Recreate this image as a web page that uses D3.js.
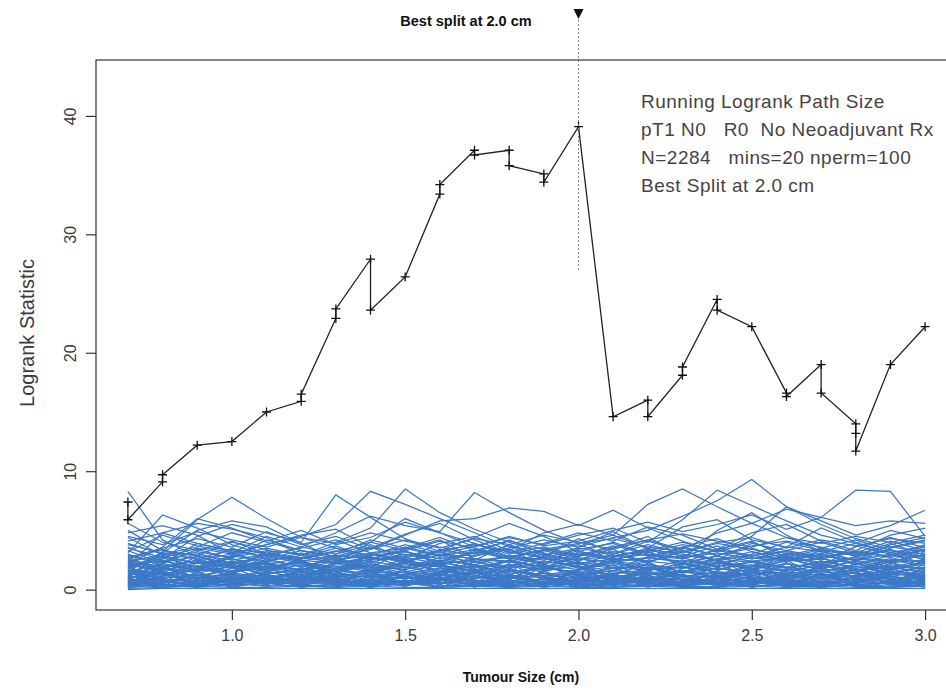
<!DOCTYPE html>
<html>
<head>
<meta charset="utf-8">
<script src="https://cdn.jsdelivr.net/npm/d3@7"></script>
<style>
  html, body { margin: 0; padding: 0; background: #fff; }
  svg { display: block; font-family: "Liberation Sans", Arial, sans-serif; }
</style>
</head>
<body>
<svg id="chart" width="946" height="690"></svg>
<script>
// ---------------- DATA ----------------
const xTicks = [1.0, 1.5, 2.0, 2.5, 3.0];
const yTicks = [0, 10, 20, 30, 40];
const titleText = "Best split at 2.0 cm";
const xLabel = "Tumour Size (cm)";
const yLabel = "Logrank Statistic";
const legendLines = [
  "Running Logrank Path Size",
  "pT1 N0   R0  No Neoadjuvant Rx",
  "N=2284   mins=20 nperm=100",
  "Best Split at 2.0 cm"
];
const bestSplit = 2.0;
const bestSplitLineBottom = 27;

// observed running logrank path (tumour size, statistic)
const pathSize = [0.7,0.7,0.8,0.8,0.9,1.0,1.1,1.2,1.2,1.3,1.3,1.4,1.4,1.5,1.6,1.6,1.7,1.7,1.8,1.8,
                  1.9,1.9,2.0,2.1,2.2,2.2,2.3,2.3,2.4,2.4,2.5,2.6,2.6,2.7,2.7,2.8,2.8,2.8,2.9,3.0];
const pathStat = [7.4,5.9,9.1,9.7,12.2,12.5,15.0,15.9,16.5,22.9,23.7,27.9,23.6,26.4,33.4,34.2,37.1,36.7,37.1,35.8,
                  35.1,34.4,39.1,14.6,16.0,14.6,18.1,18.8,24.5,23.6,22.2,16.6,16.3,19.0,16.6,14.0,13.2,11.7,19.0,22.2];

// permutation paths, evaluated at these sizes
const permSize = [0.7,0.8,0.9,1.0,1.1,1.2,1.3,1.4,1.5,1.6,1.7,1.8,1.9,2.0,2.1,2.2,2.3,2.4,2.5,2.6,2.7,2.8,2.9,3.0];
const permPaths = [
  [8.3,4.2,2.8,2.0,1.5,1.0,1.8,1.2,0.9,1.5,2.1,1.0,0.6,1.2,0.8,1.6,2.2,1.4,0.9,1.3,0.7,1.1,1.8,1.0],
  [3.1,6.3,5.2,3.8,2.9,2.2,1.5,3.0,2.4,1.6,1.1,2.0,2.7,1.9,1.2,0.8,1.5,2.3,1.8,1.1,1.7,2.5,1.9,1.4],
  [1.5,3.2,5.9,7.8,6.0,4.4,3.5,2.6,3.3,2.1,1.6,2.4,1.9,2.8,3.4,2.2,1.5,1.1,2.0,2.9,2.1,1.4,2.2,3.0],
  [2.0,2.6,4.5,5.5,4.8,4.0,8.0,6.1,4.3,3.2,2.5,3.8,2.9,2.1,3.0,4.1,3.3,2.4,1.9,2.6,3.1,2.2,1.6,2.4],
  [0.9,1.8,2.5,3.0,3.8,4.5,5.5,8.3,7.2,6.0,4.8,3.6,2.7,1.8,2.5,3.2,2.1,2.9,3.5,2.6,1.9,2.8,3.4,2.5],
  [1.2,2.1,1.6,2.8,3.5,2.9,4.0,5.2,8.5,6.5,5.1,4.0,3.1,2.2,1.8,2.7,3.6,4.3,3.2,2.4,3.0,2.1,2.9,3.8],
  [2.4,1.7,3.1,2.2,2.9,3.6,4.8,6.2,5.4,4.9,8.2,6.5,5.0,3.9,4.6,3.5,2.8,3.7,2.6,3.3,4.0,3.1,2.3,3.2],
  [1.7,2.9,2.2,3.5,2.6,1.9,2.7,3.4,4.6,5.8,6.0,6.9,6.6,5.4,6.7,5.2,4.1,3.2,4.0,3.0,2.5,3.6,4.4,3.5],
  [0.6,1.4,2.8,1.9,2.4,3.1,2.3,1.7,2.6,3.9,4.5,3.3,4.8,5.5,4.6,7.2,8.5,7.0,5.6,4.4,3.5,4.2,3.3,2.7],
  [1.9,2.5,1.5,2.3,1.7,2.6,3.3,2.5,3.6,2.9,3.7,4.4,3.8,4.6,5.2,4.0,5.9,8.4,7.1,5.8,4.6,3.9,5.0,4.3],
  [2.8,1.3,2.0,1.4,2.2,1.6,2.5,3.1,2.2,3.4,2.8,3.5,4.2,3.6,4.4,5.0,6.2,7.5,9.3,7.0,5.5,4.3,3.6,4.2],
  [1.1,2.2,3.4,2.6,1.8,2.4,1.6,2.3,3.0,2.4,3.2,2.6,3.4,2.8,3.6,4.2,3.4,4.8,5.6,6.8,6.1,8.4,8.3,4.5],
  [3.5,2.7,1.9,2.9,2.3,1.5,2.2,2.8,1.9,2.7,2.1,2.9,2.3,3.0,2.5,3.3,4.0,3.2,4.5,7.0,5.8,4.6,5.4,6.7],
  [2.2,3.6,6.0,5.2,4.1,5.0,3.8,4.4,5.7,4.8,3.6,4.5,3.7,4.1,5.0,5.7,4.9,5.5,6.3,5.1,6.1,5.4,5.8,5.6],
  [4.5,3.8,4.9,4.2,3.6,4.4,3.9,4.8,4.1,3.5,4.3,3.8,4.6,4.0,3.4,4.2,4.7,4.1,3.6,4.4,3.9,4.5,4.0,4.6],
  [3.2,4.6,3.7,3.1,4.5,3.6,3.0,4.2,3.5,4.4,3.3,4.1,3.4,3.9,4.3,3.6,3.2,4.0,4.4,3.5,4.2,3.7,4.3,3.9],
  [5.6,4.0,3.3,4.1,3.0,2.7,3.5,2.9,3.8,3.1,3.9,3.0,3.6,2.9,3.7,3.1,3.8,3.3,2.8,3.6,3.2,3.9,3.1,3.7],
  [2.7,3.5,4.3,3.6,4.9,3.8,4.5,3.4,4.2,3.6,3.0,3.7,2.9,3.5,3.0,3.8,3.1,3.9,3.4,2.9,3.5,3.0,3.6,3.2],
  [3.9,3.0,3.6,4.8,4.0,3.3,2.8,3.6,2.9,3.3,3.8,3.2,2.7,3.4,3.9,2.8,3.5,2.9,3.7,4.1,3.6,2.8,3.3,3.0],
  [4.1,4.8,3.9,3.3,2.8,3.5,4.2,3.1,3.5,2.8,3.4,2.7,3.3,2.6,3.2,2.9,2.6,3.4,2.9,3.2,2.7,3.3,2.8,3.6],
  [2.3,3.0,2.6,3.4,3.1,2.6,3.2,4.0,3.3,4.1,3.5,2.8,3.3,3.8,2.8,3.4,3.0,2.5,3.2,2.7,3.4,2.9,3.9,2.9],
  [3.6,2.4,3.2,2.7,3.3,3.0,2.5,2.9,3.2,2.6,3.1,3.4,2.6,3.1,2.6,3.0,2.7,3.1,2.6,3.0,2.6,3.2,2.7,3.4],
  [5.0,3.3,2.9,2.5,3.0,2.4,2.9,2.6,2.8,3.0,2.6,2.4,3.0,2.5,2.9,2.4,2.9,2.5,2.9,2.5,2.9,2.5,3.0,2.6],
  [1.8,2.7,3.5,3.0,2.4,2.9,3.7,2.7,2.4,2.9,2.3,2.9,2.5,3.3,2.4,2.7,2.3,2.8,2.4,2.8,2.3,2.7,2.4,2.9],
  [2.1,1.6,2.3,1.8,2.4,2.0,1.5,2.2,1.7,2.3,1.8,2.5,1.9,2.3,2.0,1.6,2.2,1.7,2.4,1.9,2.2,1.6,2.1,1.8],
  [1.5,2.2,1.7,2.3,1.6,2.1,2.4,1.8,2.2,1.6,2.3,1.9,2.1,1.7,2.4,2.0,1.8,2.3,1.7,2.2,1.8,2.4,1.7,2.2],
  [2.5,1.9,1.4,2.0,2.2,1.7,2.0,1.5,2.1,2.0,1.5,2.1,1.6,2.0,1.6,2.2,1.5,2.0,2.1,1.6,2.0,1.8,2.3,1.6],
  [1.2,1.7,2.0,1.5,1.9,1.4,1.8,2.0,1.4,1.8,2.0,1.5,1.9,1.4,1.8,1.9,1.4,1.8,1.5,1.9,1.5,2.0,1.4,1.9],
  [1.8,1.3,1.6,1.9,1.3,1.8,1.3,1.6,1.9,1.4,1.7,1.3,1.8,1.5,1.3,1.7,1.9,1.5,1.3,1.7,1.4,1.6,1.9,1.5],
  [0.9,1.5,1.2,1.6,1.7,1.2,1.6,1.3,1.2,1.6,1.3,1.7,1.2,1.7,1.5,1.2,1.6,1.3,1.7,1.3,1.8,1.3,1.5,1.3],
  [1.4,1.1,1.8,1.2,1.4,1.6,1.1,1.4,1.5,1.2,1.5,1.1,1.4,1.2,1.6,1.4,1.1,1.5,1.2,1.5,1.2,1.4,1.1,1.6],
  [1.0,1.3,1.0,1.4,1.1,1.3,1.4,1.0,1.3,1.0,1.4,1.2,1.0,1.3,1.1,1.4,1.2,1.0,1.4,1.1,1.3,1.0,1.3,1.2],
  [0.7,1.0,1.2,0.9,1.2,1.0,1.2,1.1,0.9,1.2,1.0,0.9,1.2,1.0,1.2,0.9,1.2,1.1,0.9,1.2,1.0,1.2,0.9,1.1],
  [1.1,0.8,0.9,1.1,0.8,1.1,0.9,1.2,1.0,0.8,1.1,1.0,0.8,1.1,0.9,1.0,0.8,1.2,1.0,0.9,1.1,0.8,1.1,0.9],
  [0.5,0.9,0.7,0.9,1.0,0.7,0.9,0.7,1.0,0.9,0.7,1.0,0.7,0.9,0.7,1.0,0.9,0.7,1.0,0.7,0.9,0.9,0.7,1.0],
  [0.8,0.6,1.0,0.6,0.8,0.9,0.6,0.8,0.6,0.9,0.8,0.6,0.9,0.8,0.6,0.8,0.6,0.9,0.7,0.8,0.6,0.9,0.8,0.6],
  [0.3,0.7,0.5,0.7,0.6,0.5,0.7,0.6,0.7,0.5,0.7,0.6,0.5,0.7,0.6,0.7,0.5,0.6,0.7,0.5,0.7,0.6,0.5,0.7],
  [0.6,0.4,0.6,0.4,0.5,0.6,0.4,0.5,0.4,0.6,0.5,0.4,0.6,0.4,0.5,0.6,0.4,0.5,0.6,0.4,0.5,0.4,0.6,0.5],
  [0.2,0.4,0.3,0.5,0.3,0.4,0.3,0.4,0.5,0.3,0.4,0.3,0.4,0.5,0.3,0.4,0.3,0.5,0.3,0.4,0.3,0.4,0.3,0.4],
  [0.1,0.2,0.3,0.2,0.2,0.3,0.2,0.3,0.2,0.2,0.3,0.2,0.3,0.2,0.2,0.3,0.2,0.2,0.3,0.2,0.3,0.2,0.2,0.3],
  [0.0,0.1,0.1,0.1,0.1,0.1,0.1,0.1,0.1,0.1,0.1,0.1,0.1,0.1,0.1,0.1,0.1,0.1,0.1,0.1,0.1,0.1,0.1,0.1],
  [2.9,2.3,2.8,2.2,2.7,2.5,2.2,2.7,2.4,2.1,2.6,2.3,2.7,2.2,2.6,2.4,2.1,2.6,2.3,2.7,2.2,2.6,2.3,2.5],
  [2.0,2.8,2.2,2.6,2.1,2.7,2.3,2.5,2.7,2.2,2.5,2.7,2.2,2.6,2.3,2.7,2.4,2.2,2.7,2.4,2.6,2.2,2.6,2.3],
  [1.3,1.9,2.5,2.1,1.7,2.3,1.9,2.4,1.9,2.5,2.1,1.8,2.4,1.9,2.2,1.7,2.5,2.0,2.3,1.8,2.4,1.9,2.5,2.0],
  [0.4,0.3,0.8,0.5,0.7,0.4,0.8,0.5,0.6,0.8,0.5,0.8,0.4,0.6,0.8,0.5,0.7,0.4,0.8,0.6,0.4,0.7,0.5,0.8],
  [1.6,1.2,0.9,1.3,0.9,1.5,1.0,1.7,1.1,1.4,0.9,1.6,1.1,1.5,1.0,1.3,1.6,1.0,1.5,1.0,1.6,1.1,1.4,1.0],
  [0.3,1.9,0.8,2.2,1.1,0.5,1.7,2.4,0.9,1.3,2.0,0.6,1.5,2.3,1.0,0.4,1.8,2.5,1.2,0.7,2.1,1.4,0.5,1.9],
  [1.7,0.5,2.3,1.0,0.4,1.9,0.8,1.2,2.5,0.6,1.1,2.2,0.9,0.3,1.6,2.4,0.7,1.3,2.0,1.5,0.6,2.3,1.1,0.8],
  [2.2,1.4,0.6,0.3,1.5,2.5,1.3,0.5,1.8,2.3,0.8,0.4,2.0,1.2,0.6,1.9,1.1,0.3,0.9,2.2,1.7,0.5,1.3,2.1],
  [0.8,2.4,1.9,1.2,0.5,0.9,2.2,1.6,0.4,0.8,1.9,2.4,1.4,0.7,2.1,1.0,0.5,1.6,2.4,0.9,0.3,1.2,2.0,1.7],
  [1.0,0.2,0.5,1.6,2.3,1.2,0.4,0.9,1.5,2.1,0.5,1.3,0.4,1.7,2.5,1.3,2.0,0.8,0.4,1.7,2.4,1.8,0.9,0.3],
  [2.6,1.8,1.1,0.7,1.3,0.6,2.5,1.9,1.1,0.4,1.4,0.8,2.4,2.0,0.5,0.9,1.5,2.2,1.0,0.5,1.2,0.6,1.6,2.4],
  [0.4,1.1,2.4,1.9,0.7,1.6,0.5,1.4,2.3,1.9,0.6,1.8,1.1,0.5,1.3,2.1,0.8,0.5,1.7,2.5,0.9,1.5,2.4,0.6],
  [1.9,0.7,0.3,0.8,1.8,2.4,1.0,0.3,0.7,1.1,2.4,1.6,0.5,1.0,1.9,0.6,2.3,1.4,0.6,1.1,1.9,0.3,0.8,1.4],
  [1.3,2.5,1.5,0.5,0.9,0.3,1.4,2.1,1.6,0.5,0.9,2.0,1.7,2.4,0.7,1.5,0.4,2.4,1.8,0.4,0.8,2.2,1.6,1.1],
  [0.6,0.9,1.8,2.4,1.9,1.0,0.7,0.4,1.3,1.8,1.2,0.5,0.9,1.6,2.3,1.8,1.2,0.6,0.5,1.4,2.2,1.0,0.4,0.5],
  [2.3,1.5,0.4,1.4,2.0,2.2,0.3,1.1,0.5,2.4,1.7,0.9,2.2,0.8,1.1,0.3,0.9,1.9,1.1,2.3,0.5,0.7,1.8,2.3],
  [0.2,0.6,1.3,0.6,0.3,0.8,1.2,0.7,0.3,0.9,0.4,1.1,0.5,0.2,0.7,1.2,0.4,0.8,0.2,0.6,1.3,0.5,0.2,0.9],
  [0.5,0.2,0.4,0.9,0.6,0.2,0.5,0.3,0.8,0.3,0.6,0.2,0.7,0.4,0.2,0.5,0.3,0.2,0.6,0.3,0.2,0.4,0.7,0.2],
  [1.4,0.9,0.6,0.3,0.6,1.1,0.8,0.6,0.4,1.0,0.7,0.3,0.4,0.9,0.5,0.3,0.6,1.0,0.7,0.3,0.6,0.9,0.4,0.6],
  [3.0,2.0,1.0,1.8,3.2,2.4,1.2,3.0,2.6,1.4,2.9,3.4,2.0,1.3,2.8,3.3,1.9,2.6,1.5,3.1,2.7,1.6,2.5,3.4],
  [2.6,3.4,2.5,1.4,2.6,3.3,2.8,1.6,2.3,3.2,2.0,1.4,3.5,2.7,1.8,2.5,3.6,2.9,1.8,2.4,3.3,2.9,1.8,2.6],
  [3.3,2.2,3.9,3.2,2.0,1.6,3.0,3.8,2.5,1.9,3.4,2.6,1.6,3.2,4.0,3.0,2.2,3.4,4.1,2.7,1.9,3.7,3.0,2.2],
  [1.1,3.1,2.9,4.0,3.4,2.2,1.8,2.6,3.4,4.2,2.6,1.9,2.8,4.3,3.1,2.3,3.3,2.5,3.9,3.3,2.8,3.1,4.1,3.3],
  [4.4,2.9,1.8,2.7,4.2,3.3,2.6,1.9,3.2,2.3,3.1,4.2,3.0,2.4,3.5,4.5,2.7,1.9,3.0,4.0,3.3,2.4,3.5,4.1],
  [0.9,0.4,0.2,0.4,0.9,0.4,0.2,0.9,0.6,0.2,0.3,0.7,0.2,0.6,0.4,0.9,0.2,0.3,0.9,0.4,0.7,0.3,0.2,0.4],
  [2.0,4.8,5.6,5.1,4.4,2.9,2.2,4.0,6.0,4.8,3.9,2.8,2.1,3.6,4.9,3.4,2.6,5.0,6.5,4.6,3.2,2.5,3.8,4.4],
  [4.8,5.4,4.6,3.0,3.8,4.6,5.1,3.6,2.4,3.3,4.4,5.6,4.5,3.2,2.7,3.5,5.3,5.9,4.2,3.6,5.2,4.0,3.1,2.8],
  [3.8,3.1,5.0,5.8,5.3,3.9,2.6,3.5,4.7,5.6,4.2,3.1,3.9,4.8,4.1,5.3,4.6,3.4,4.8,5.5,4.1,3.3,4.6,5.2],
  [0.7,1.4,0.3,1.1,0.4,1.3,0.6,0.2,1.2,0.5,1.5,0.3,1.0,0.6,1.4,0.2,1.1,0.5,0.3,1.3,0.6,1.5,0.4,1.2],
  [1.2,0.3,1.5,0.6,1.3,0.3,1.0,1.5,0.4,1.1,0.2,1.3,0.6,1.5,0.3,1.2,0.5,1.4,1.1,0.2,1.4,0.5,1.2,0.3],
  [0.4,0.8,0.2,1.3,0.5,1.0,0.3,1.1,0.7,0.2,1.2,0.7,0.3,1.0,0.4,0.8,1.3,0.3,0.5,1.0,0.3,0.8,1.0,0.6],
  [1.5,1.0,1.3,0.4,1.1,0.5,1.4,0.8,0.3,1.4,0.6,1.2,0.4,0.8,1.3,0.6,0.3,1.2,0.4,0.9,1.4,0.2,0.6,1.3],
  [0.9,1.6,0.5,0.8,1.6,0.8,0.4,1.7,1.0,0.7,1.7,0.4,1.6,0.3,1.0,1.6,0.8,0.7,1.6,0.5,1.0,1.7,0.8,0.4],
  [0.2,0.5,1.0,0.2,0.7,1.5,0.9,0.2,0.5,1.3,0.3,0.5,0.9,0.2,0.5,1.1,0.2,1.0,0.4,0.8,0.2,0.6,1.5,0.9]
];

// ---------------- LAYOUT ----------------
const svg = d3.select("#chart");
const box = { left: 96, right: 957, top: 60, bottom: 610 };
const x = d3.scaleLinear().domain([0.608, 3.092]).range([box.left, box.right]);
const y = d3.scaleLinear().domain([-1.72, 44.72]).range([box.bottom, box.top]);

const axisColor = "#333";
const textColor = "#3a3a3a";
const blue = "#3b78c6";

// permutation paths
const permLine = d3.line().x((d, i) => x(permSize[i])).y(d => y(d));
svg.append("g").attr("class", "perms")
  .selectAll("path").data(permPaths).join("path")
  .attr("d", permLine)
  .attr("fill", "none")
  .attr("stroke", blue)
  .attr("stroke-width", 1.25)
  .attr("stroke-linejoin", "miter");

// observed path
const obs = pathSize.map((s, i) => [s, pathStat[i]]);
svg.append("path")
  .attr("d", d3.line().x(d => x(d[0])).y(d => y(d[1]))(obs))
  .attr("fill", "none")
  .attr("stroke", "#222")
  .attr("stroke-width", 1.3);

// plus markers
const pm = 4.5;
svg.append("g").selectAll("path").data(obs).join("path")
  .attr("d", d => {
    const px = x(d[0]), py = y(d[1]);
    return `M${px - pm},${py}H${px + pm}M${px},${py - pm}V${py + pm}`;
  })
  .attr("stroke", "#111")
  .attr("stroke-width", 1.3)
  .attr("fill", "none");

// best split marker line (dotted) and triangle
svg.append("line")
  .attr("x1", x(bestSplit)).attr("x2", x(bestSplit))
  .attr("y1", 16).attr("y2", y(bestSplitLineBottom))
  .attr("stroke", "#888").attr("stroke-width", 1)
  .attr("stroke-dasharray", "2,2");
svg.append("path")
  .attr("d", `M${x(bestSplit) - 5},9L${x(bestSplit) + 5},9L${x(bestSplit)},19Z`)
  .attr("fill", "#111");

// box
svg.append("rect")
  .attr("x", box.left).attr("y", box.top)
  .attr("width", box.right - box.left).attr("height", box.bottom - box.top)
  .attr("fill", "none").attr("stroke", axisColor).attr("stroke-width", 1.2);

// x axis
const xAxis = d3.axisBottom(x).tickValues(xTicks).tickFormat(d3.format(".1f"))
  .tickSize(10).tickPadding(10);
const gx = svg.append("g").attr("transform", `translate(0,${box.bottom})`).call(xAxis);
gx.select(".domain").remove();
gx.selectAll(".tick line").attr("stroke", axisColor).attr("stroke-width", 1.2);
gx.selectAll(".tick text").attr("font-size", 16).attr("fill", textColor)
  .attr("font-family", "'Liberation Sans', Arial, sans-serif");

// y axis
const yAxis = d3.axisLeft(y).tickValues(yTicks).tickFormat(d3.format("d"))
  .tickSize(10).tickPadding(0);
const gy = svg.append("g").attr("transform", `translate(${box.left},0)`).call(yAxis);
gy.select(".domain").remove();
gy.selectAll(".tick line").attr("stroke", axisColor).attr("stroke-width", 1.2);
gy.selectAll(".tick text")
  .attr("font-size", 16).attr("fill", textColor)
  .attr("font-family", "'Liberation Sans', Arial, sans-serif")
  .attr("x", null).attr("dy", null)
  .attr("text-anchor", "middle")
  .attr("transform", "translate(-20,0) rotate(-90)");

// axis labels
svg.append("text")
  .attr("x", 521).attr("y", 682)
  .attr("text-anchor", "middle")
  .attr("font-size", 14).attr("font-weight", "bold").attr("fill", "#111")
  .text(xLabel);
svg.append("text")
  .attr("transform", `translate(34,333) rotate(-90)`)
  .attr("text-anchor", "middle")
  .attr("font-size", 20).attr("fill", textColor)
  .text(yLabel);

// title
svg.append("text")
  .attr("x", 466).attr("y", 26)
  .attr("text-anchor", "middle")
  .attr("font-size", 14.5).attr("font-weight", "bold").attr("fill", "#111")
  .text(titleText);

// legend text
svg.append("g").selectAll("text").data(legendLines).join("text")
  .attr("x", 641)
  .attr("y", (d, i) => 108 + i * 28)
  .attr("font-size", 19)
  .attr("letter-spacing", 0.5)
  .attr("fill", "#4a4242")
  .style("white-space", "pre")
  .attr("xml:space", "preserve")
  .text(d => d);
</script>
</body>
</html>
